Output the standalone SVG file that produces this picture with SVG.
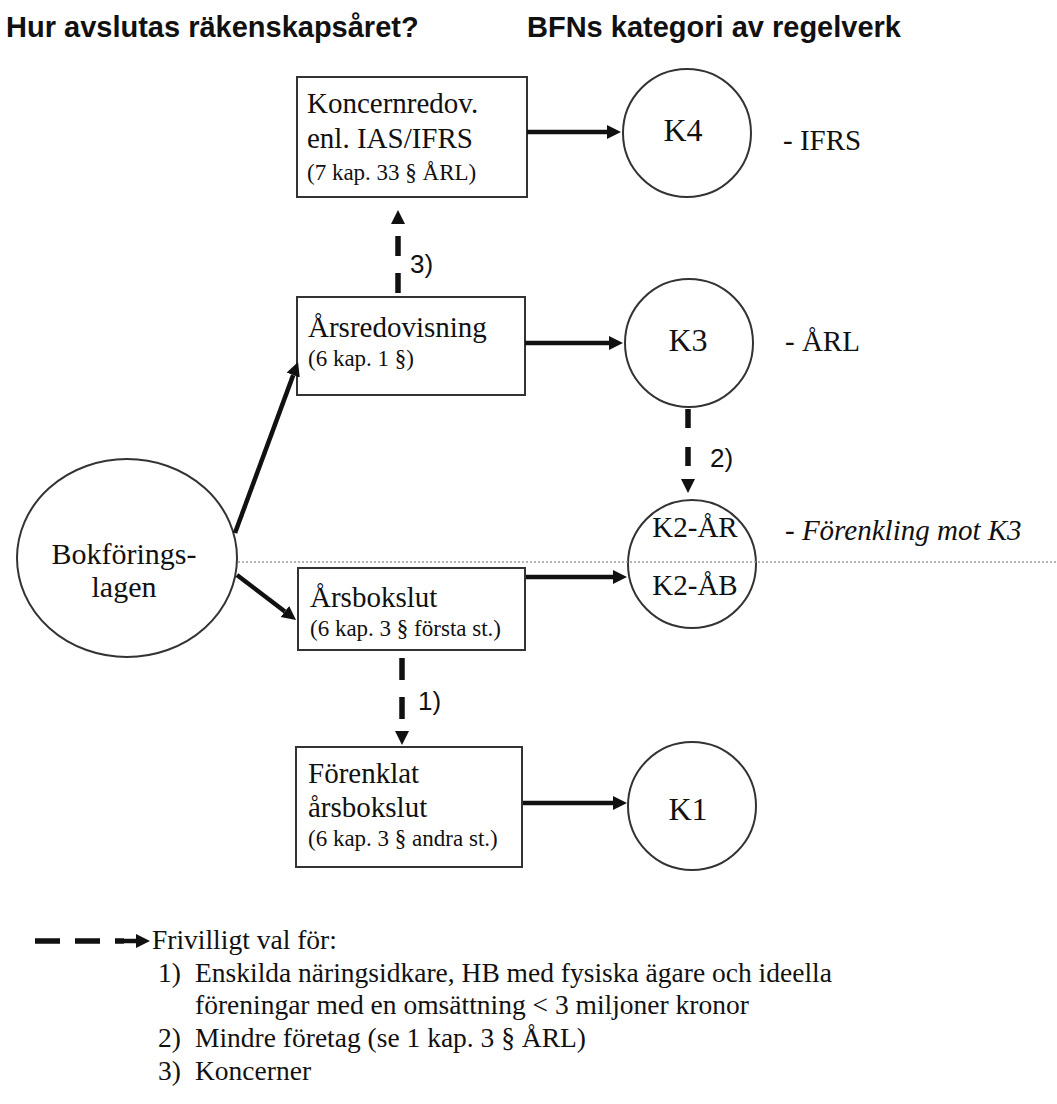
<svg xmlns="http://www.w3.org/2000/svg" width="1057" height="1104" viewBox="0 0 1057 1104">
  <style>
    .title { font-family: "Liberation Sans", Arial, sans-serif; font-weight: bold; font-size: 29px; fill: #111; }
    .t { font-family: "Liberation Serif", "Times New Roman", serif; font-size: 29px; fill: #111; }
    .ts { font-size: 23px; }
    .k { font-size: 32px; }
    .big { font-size: 30px; }
    .leg { font-size: 27.5px; }
    .it { font-style: italic; }
    .lbl { font-family: "Liberation Sans", Arial, sans-serif; font-size: 26px; fill: #111; }
    .box { fill: #fff; stroke: #333; stroke-width: 2; }
    .circ { fill: #fff; stroke: #333; stroke-width: 2; }
    .conn { stroke: #111; stroke-width: 4.5; fill: none; }
    .dash { stroke: #111; stroke-width: 5.5; fill: none; }
    .divider { stroke: #9a9a9a; stroke-width: 1.3; stroke-dasharray: 2 2; fill: none; }
  </style>
  <defs>
    <!-- solid head: starts where the line stops -->
    <marker id="ah" markerUnits="userSpaceOnUse" markerWidth="16" markerHeight="16" refX="0" refY="7" orient="auto">
      <path d="M0,0 L14,7 L0,14 z" fill="#111"/>
    </marker>
    <!-- head for the optional (dashed) choices, set off a little from the last dash -->
    <marker id="dh" markerUnits="userSpaceOnUse" markerWidth="40" markerHeight="16" refX="-12" refY="7" orient="auto">
      <path d="M0,0 L14,7 L0,14 z" fill="#111"/>
    </marker>
  </defs>

  <rect width="1057" height="1104" fill="#fff"/>

  <!-- column headings -->
  <text class="title" x="6" y="37">Hur avslutas räkenskapsåret?</text>
  <text class="title" x="527" y="37">BFNs kategori av regelverk</text>

  <!-- nodes -->
  <g id="bokforingslagen">
    <ellipse class="circ" cx="127" cy="558" rx="110" ry="99"/>
    <text class="t big" x="124" y="564" text-anchor="middle">Bokförings-</text>
    <text class="t big" x="124" y="597" text-anchor="middle">lagen</text>
  </g>

  <g id="koncernredovisning">
    <rect class="box" x="297" y="77" width="230" height="120"/>
    <text class="t" x="307" y="113">Koncernredov.</text>
    <text class="t" x="307" y="148">enl. IAS/IFRS</text>
    <text class="t ts" x="307" y="180">(7 kap. 33 § ÅRL)</text>
  </g>

  <g id="arsredovisning">
    <rect class="box" x="297" y="297" width="228" height="98"/>
    <text class="t" x="308" y="337">Årsredovisning</text>
    <text class="t ts" x="308" y="366">(6 kap. 1 §)</text>
  </g>

  <g id="arsbokslut">
    <rect class="box" x="298" y="568" width="227" height="82"/>
    <text class="t" x="310" y="607">Årsbokslut</text>
    <text class="t ts" x="310" y="636">(6 kap. 3 § första st.)</text>
  </g>

  <g id="forenklat-arsbokslut">
    <rect class="box" x="296" y="747" width="226" height="120"/>
    <text class="t" x="308" y="783">Förenklat</text>
    <text class="t" x="308" y="817">årsbokslut</text>
    <text class="t ts" x="308" y="846">(6 kap. 3 § andra st.)</text>
  </g>

  <g id="k4">
    <circle class="circ" cx="687" cy="133" r="64"/>
    <text class="t k" x="683" y="141" text-anchor="middle">K4</text>
    <text class="t" x="783" y="150">- IFRS</text>
  </g>

  <g id="k3">
    <circle class="circ" cx="689" cy="343" r="64"/>
    <text class="t k" x="688" y="351" text-anchor="middle">K3</text>
    <text class="t" x="785" y="351">- ÅRL</text>
  </g>

  <g id="k2">
    <circle class="circ" cx="692" cy="564" r="64"/>
    <text class="t" x="695" y="537" text-anchor="middle">K2-ÅR</text>
    <text class="t" x="695" y="595" text-anchor="middle">K2-ÅB</text>
    <text class="t it" x="785" y="540">- Förenkling mot K3</text>
  </g>

  <g id="k1">
    <circle class="circ" cx="692" cy="806" r="64"/>
    <text class="t k" x="688" y="820" text-anchor="middle">K1</text>
  </g>

  <!-- boundary between K2-ÅR and K2-ÅB -->
  <line class="divider" x1="238" y1="562" x2="1057" y2="562"/>

  <!-- connectors -->
  <g id="connectors">
    <line class="conn" x1="527" y1="132" x2="607" y2="132" marker-end="url(#ah)"/>
    <line class="conn" x1="525" y1="343" x2="609" y2="343" marker-end="url(#ah)"/>
    <line class="conn" x1="526" y1="577" x2="613" y2="577" marker-end="url(#ah)"/>
    <line class="conn" x1="523" y1="803" x2="613" y2="803" marker-end="url(#ah)"/>
    <line class="conn" x1="235" y1="533" x2="293.2" y2="375.1" marker-end="url(#ah)"/>
    <line class="conn" x1="237" y1="575" x2="284.9" y2="611.5" marker-end="url(#ah)"/>

    <line class="dash" x1="398" y1="293" x2="398" y2="236" stroke-dasharray="20 17" marker-end="url(#dh)"/>
    <line class="dash" x1="688" y1="409" x2="688" y2="467" stroke-dasharray="19 19" marker-end="url(#dh)"/>
    <line class="dash" x1="402" y1="658" x2="402" y2="719" stroke-dasharray="22 17" marker-end="url(#dh)"/>

    <text class="lbl" x="410" y="273">3)</text>
    <text class="lbl" x="710" y="467">2)</text>
    <text class="lbl" x="418" y="710">1)</text>
  </g>

  <!-- key -->
  <g id="legend">
    <line class="dash" x1="35" y1="941" x2="124" y2="941" stroke-dasharray="25 15"/>
    <line class="conn" x1="124" y1="941" x2="136" y2="941" marker-end="url(#ah)"/>
    <text class="t leg" x="152" y="949">Frivilligt val för:</text>
    <text class="t leg" x="158" y="982">1)</text>
    <text class="t leg" x="195" y="982">Enskilda näringsidkare, HB med fysiska ägare och ideella</text>
    <text class="t leg" x="195" y="1014">föreningar med en omsättning &lt; 3 miljoner kronor</text>
    <text class="t leg" x="158" y="1047">2)</text>
    <text class="t leg" x="195" y="1047">Mindre företag (se 1 kap. 3 § ÅRL)</text>
    <text class="t leg" x="158" y="1080">3)</text>
    <text class="t leg" x="195" y="1080">Koncerner</text>
  </g>
</svg>
